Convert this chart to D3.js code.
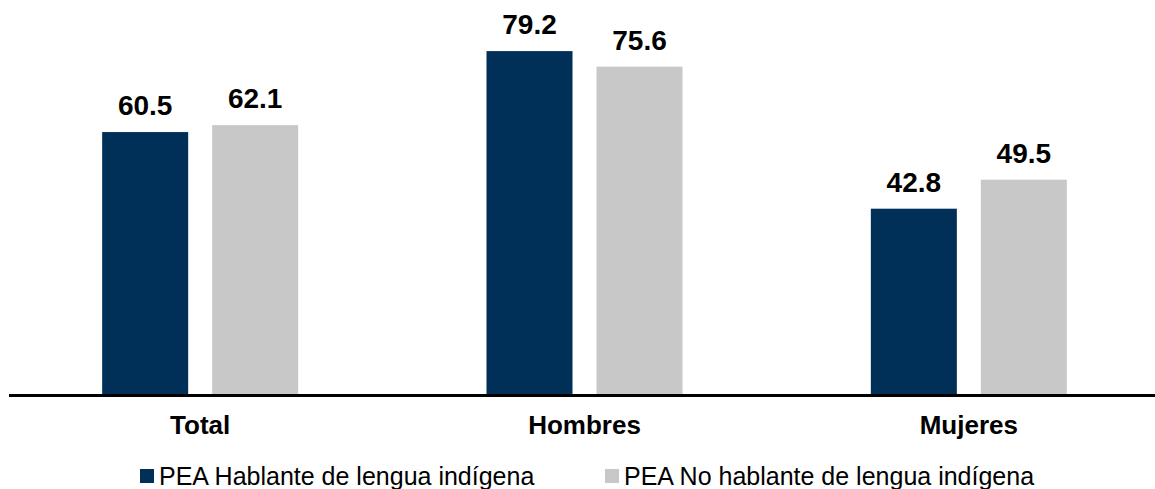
<!DOCTYPE html>
<html>
<head>
<meta charset="utf-8">
<script src="https://cdn.jsdelivr.net/npm/d3@7"></script>
<style>
  body { margin: 0; background: #fff; }
  svg { display: block; font-family: "Liberation Sans", Arial, sans-serif; }
</style>
</head>
<body>
<svg width="1155" height="489"></svg>
<script>
const categories = ['Total', 'Hombres', 'Mujeres']
const series = ['PEA Hablante de lengua indígena', 'PEA No hablante de lengua indígena']
const hablante = [60.5, 79.2, 42.8]
const noHablante = [62.1, 75.6, 49.5]
const colors = ['#003057', '#c8c8c8']

const svg = d3.select('svg')
const baseline = 394

const x = d3.scaleBand()
  .domain(categories)
  .range([8, 1161])
const xInner = d3.scaleBand()
  .domain(series)
  .range([0, 196])
  .paddingInner(0.218)
const y = d3.scaleLinear()
  .domain([0, 91])
  .range([baseline, 0])

const rows = categories.map((c, i) => ({ cat: c, values: [hablante[i], noHablante[i]] }))

const groups = svg.selectAll('g.group')
  .data(rows)
  .enter()
  .append('g')
  .attr('class', 'group')
  .attr('transform', d => `translate(${x(d.cat) + x.bandwidth() / 2 - 98},0)`)

groups.selectAll('rect')
  .data(d => d.values.map((v, j) => ({ key: series[j], v, j })))
  .enter()
  .append('rect')
  .attr('x', d => xInner(d.key))
  .attr('y', d => y(d.v))
  .attr('width', xInner.bandwidth())
  .attr('height', d => baseline - y(d.v))
  .attr('fill', d => colors[d.j])

groups.selectAll('text.val')
  .data(d => d.values.map((v, j) => ({ key: series[j], v, j })))
  .enter()
  .append('text')
  .attr('class', 'val')
  .attr('x', d => xInner(d.key) + xInner.bandwidth() / 2)
  .attr('y', d => y(d.v) - 17)
  .attr('text-anchor', 'middle')
  .attr('font-size', 28)
  .attr('font-weight', 'bold')
  .attr('fill', '#000')
  .text(d => d.v.toFixed(1))

// axis baseline
svg.append('line')
  .attr('x1', 9).attr('x2', 1155)
  .attr('y1', baseline + 1.5).attr('y2', baseline + 1.5)
  .attr('stroke', '#000')
  .attr('stroke-width', 3)

const xAxis = d3.axisBottom(x).tickSize(0).tickPadding(0)
svg.append('g')
  .attr('transform', `translate(0,${baseline + 40})`)
  .call(xAxis)
  .call(g => g.select('.domain').remove())
  .selectAll('text')
  .attr('font-size', 26)
  .attr('font-weight', 'bold')
  .attr('fill', '#000')
  .attr('font-family', '"Liberation Sans", Arial, sans-serif')
  .attr('dy', 0)

// legend
const legendX = [140, 605]
const legend = svg.selectAll('g.legend')
  .data(series)
  .enter()
  .append('g')
  .attr('class', 'legend')
  .attr('transform', (d, i) => `translate(${legendX[i]},0)`)

legend.append('rect')
  .attr('x', 0).attr('y', 469)
  .attr('width', 14).attr('height', 14)
  .attr('fill', (d, i) => colors[i])

legend.append('text')
  .attr('x', 19)
  .attr('y', 485)
  .attr('font-size', 25)
  .attr('fill', '#000')
  .text(d => d)
</script>
</body>
</html>
